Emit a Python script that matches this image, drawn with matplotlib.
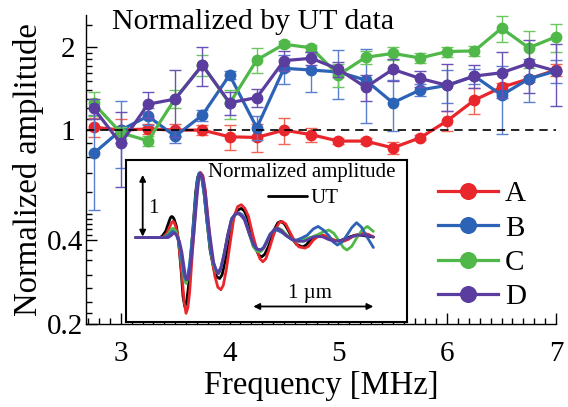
import matplotlib
matplotlib.use("Agg")
import matplotlib.pyplot as plt
from matplotlib.ticker import FixedLocator, FixedFormatter, NullFormatter, MultipleLocator

plt.rcParams['font.family'] = ['Liberation Serif', 'DejaVu Serif']

# frequency points [MHz]
freq = [2.75, 3.0, 3.25, 3.5, 3.75, 4.0, 4.25, 4.5, 4.75, 5.0,
        5.25, 5.5, 5.75, 6.0, 6.25, 6.5, 6.75, 7.0]

# normalized amplitude per sample, with error
a_val = [1.025, 1.00, 1.01, 1.00, 1.00, 0.946, 0.941, 1.00, 0.963, 0.913,
         0.913, 0.863, 0.938, 1.08, 1.283, 1.427, 1.53, 1.647]
a_err = [0.08, 0.10, 0.04, 0.05, 0.04, 0.10, 0.11, 0.11, 0.055, 0.02,
         0.02, 0.04, 0.02, 0.09, 0.14, 0.05, 0.04, 0.08]
b_val = [0.824, 1.00, 1.123, 0.95, 1.133, 1.58, 1.02, 1.67, 1.647, 1.62,
         1.515, 1.255, 1.395, 1.45, 1.566, 1.337, 1.53, 1.633]
b_err = [0.31, 0.27, 0.08, 0.05, 0.05, 0.05, 0.10, 0.20, 0.27, 0.33,
         0.45, 0.26, 0.07, 0.20, 0.10, 0.37, 0.27, 0.15]
c_val = [1.248, 0.978, 0.915, 1.30, 1.716, 1.248, 1.79, 2.04, 1.98, 1.58,
         1.83, 1.89, 1.82, 1.92, 1.93, 2.33, 1.98, 2.17]
c_err = [0.12, 0.05, 0.04, 0.10, 0.15, 0.15, 0.18, 0.05, 0.05, 0.15,
         0.10, 0.10, 0.08, 0.08, 0.08, 0.25, 0.30, 0.25]
d_val = [1.198, 0.895, 1.24, 1.294, 1.716, 1.255, 1.31, 1.78, 1.815, 1.66,
         1.426, 1.656, 1.536, 1.45, 1.566, 1.61, 1.74, 1.633]
d_err = [0.10, 0.27, 0.13, 0.35, 0.27, 0.12, 0.10, 0.15, 0.10, 0.10,
         0.15, 0.15, 0.10, 0.28, 0.15, 0.30, 0.38, 0.41]

labels = ['A', 'B', 'C', 'D']
colors = ['#e9262b', '#2c63b6', '#4fb848', '#5a3d9f']
err_colors = ['#f06454', '#5a7fcf', '#6cc65f', '#6a52b6']

# inset waveforms: position [um] vs amplitude
ut_x = [0.08, 0.28, 0.30, 0.33, 0.355, 0.37, 0.38, 0.39, 0.40, 0.42,
        0.44, 0.46, 0.475, 0.49, 0.505, 0.52, 0.55, 0.58, 0.595, 0.61,
        0.63, 0.65, 0.675, 0.70, 0.73, 0.755, 0.78, 0.80, 0.825, 0.86,
        0.89, 0.925, 0.96, 0.985, 1.01, 1.045, 1.075, 1.105, 1.13, 1.155,
        1.19, 1.215, 1.24, 1.265, 1.29, 1.32, 1.35, 1.39, 1.42, 1.47,
        1.50, 1.53, 1.575, 1.62, 1.66, 1.70, 1.74, 1.78, 1.825, 1.87,
        1.91, 1.95, 2.00, 2.06]
ut_y = [0.0, 0.0, 0.02, 0.10, 0.24, 0.32, 0.34, 0.33, 0.30, 0.18,
        -0.10, -0.55, -0.95, -1.11, -1.03, -0.80, -0.04, 0.73, 0.96, 1.04,
        0.98, 0.72, 0.25, -0.20, -0.50, -0.63, -0.66, -0.60, -0.38, 0.0,
        0.29, 0.44, 0.47, 0.43, 0.32, 0.06, -0.15, -0.28, -0.31, -0.27,
        -0.13, 0.02, 0.15, 0.24, 0.26, 0.22, 0.12, -0.03, -0.11, -0.15,
        -0.12, -0.05, 0.02, 0.04, 0.01, -0.02, -0.045, -0.05, -0.02, 0.015,
        0.04, 0.04, 0.025, 0.01]
wa_x = [0.08, 0.28, 0.31, 0.34, 0.365, 0.38, 0.39, 0.40, 0.41, 0.43,
        0.45, 0.47, 0.485, 0.50, 0.515, 0.53, 0.56, 0.59, 0.605, 0.62,
        0.64, 0.66, 0.685, 0.71, 0.74, 0.765, 0.79, 0.81, 0.835, 0.87,
        0.90, 0.93, 0.96, 0.99, 1.02, 1.055, 1.09, 1.115, 1.14, 1.165,
        1.195, 1.225, 1.25, 1.275, 1.30, 1.33, 1.37, 1.41, 1.44, 1.49,
        1.52, 1.56, 1.60, 1.64, 1.685, 1.73, 1.77, 1.81, 1.85, 1.89,
        1.935, 1.98, 2.02, 2.06]
wa_y = [0.0, 0.0, 0.01, 0.07, 0.18, 0.24, 0.26, 0.25, 0.20, 0.05,
        -0.30, -0.70, -1.05, -1.22, -1.13, -0.88, -0.05, 0.74, 0.97, 1.05,
        1.00, 0.77, 0.27, -0.25, -0.62, -0.80, -0.84, -0.77, -0.52, -0.05,
        0.34, 0.50, 0.53, 0.47, 0.34, 0.05, -0.20, -0.34, -0.39, -0.34,
        -0.17, 0.02, 0.15, 0.24, 0.26, 0.22, 0.07, -0.08, -0.15, -0.17,
        -0.14, -0.04, 0.02, 0.04, 0.01, -0.04, -0.06, -0.06, -0.03, 0.02,
        0.05, 0.07, 0.05, 0.01]
wc_x = [0.08, 0.28, 0.31, 0.34, 0.365, 0.38, 0.39, 0.40, 0.415, 0.435,
        0.455, 0.47, 0.485, 0.50, 0.515, 0.53, 0.555, 0.58, 0.595, 0.61,
        0.63, 0.65, 0.675, 0.70, 0.725, 0.75, 0.77, 0.79, 0.815, 0.85,
        0.88, 0.91, 0.94, 0.965, 0.99, 1.03, 1.06, 1.09, 1.12, 1.145,
        1.17, 1.20, 1.23, 1.25, 1.27, 1.30, 1.34, 1.38, 1.42, 1.47,
        1.51, 1.55, 1.60, 1.65, 1.69, 1.73, 1.77, 1.81, 1.84, 1.88,
        1.92, 1.965, 2.01, 2.06]
wc_y = [0.0, 0.0, 0.0, 0.03, 0.10, 0.14, 0.15, 0.14, 0.10, -0.02,
        -0.25, -0.48, -0.68, -0.74, -0.66, -0.45, 0.05, 0.63, 0.93, 1.03,
        0.97, 0.72, 0.25, -0.15, -0.42, -0.55, -0.58, -0.50, -0.28, 0.05,
        0.29, 0.37, 0.39, 0.36, 0.29, 0.03, -0.15, -0.22, -0.23, -0.18,
        -0.09, 0.04, 0.12, 0.15, 0.15, 0.12, 0.04, -0.03, -0.06, -0.04,
        -0.01, 0.01, 0.05, 0.10, 0.12, 0.07, -0.04, -0.16, -0.20, -0.14,
        -0.01, 0.12, 0.18, 0.10]
wb_x = [0.08, 0.28, 0.31, 0.34, 0.365, 0.38, 0.39, 0.40, 0.415, 0.435,
        0.455, 0.47, 0.485, 0.50, 0.515, 0.53, 0.555, 0.58, 0.595, 0.61,
        0.63, 0.65, 0.675, 0.70, 0.725, 0.75, 0.77, 0.79, 0.815, 0.85,
        0.88, 0.91, 0.94, 0.965, 0.99, 1.03, 1.06, 1.09, 1.12, 1.145,
        1.17, 1.20, 1.23, 1.25, 1.27, 1.30, 1.34, 1.38, 1.42, 1.46,
        1.51, 1.56, 1.60, 1.645, 1.69, 1.725, 1.76, 1.80, 1.84, 1.88,
        1.92, 1.96, 2.01, 2.06]
wb_y = [0.0, 0.0, 0.0, 0.02, 0.06, 0.09, 0.10, 0.09, 0.06, -0.04,
        -0.22, -0.43, -0.62, -0.68, -0.61, -0.42, 0.05, 0.63, 0.93, 1.04,
        0.97, 0.72, 0.25, -0.12, -0.40, -0.52, -0.55, -0.48, -0.28, 0.06,
        0.31, 0.38, 0.40, 0.37, 0.31, 0.05, -0.12, -0.19, -0.20, -0.16,
        -0.06, 0.06, 0.11, 0.12, 0.11, 0.08, 0.02, -0.03, -0.04, -0.01,
        0.04, 0.14, 0.18, 0.12, 0.03, -0.07, -0.12, -0.07, 0.04, 0.16,
        0.24, 0.17, 0.0, -0.16]
wd_x = [0.08, 0.28, 0.32, 0.35, 0.375, 0.39, 0.40, 0.41, 0.425, 0.445,
        0.465, 0.48, 0.495, 0.51, 0.525, 0.54, 0.565, 0.59, 0.605, 0.62,
        0.64, 0.66, 0.685, 0.71, 0.73, 0.755, 0.77, 0.79, 0.815, 0.845,
        0.875, 0.905, 0.93, 0.955, 0.985, 1.025, 1.06, 1.09, 1.12, 1.145,
        1.17, 1.20, 1.23, 1.245, 1.26, 1.29, 1.33, 1.39, 1.44, 1.48,
        1.52, 1.56, 1.60, 1.64, 1.685, 1.73, 1.77, 1.81, 1.85, 1.89,
        1.935, 1.98, 2.02, 2.06]
wd_y = [0.0, 0.0, 0.0, 0.0, 0.03, 0.06, 0.07, 0.06, 0.03, -0.06,
        -0.23, -0.43, -0.62, -0.68, -0.61, -0.42, 0.05, 0.63, 0.93, 1.04,
        0.97, 0.72, 0.25, -0.12, -0.40, -0.55, -0.58, -0.50, -0.30, 0.03,
        0.27, 0.37, 0.39, 0.36, 0.29, 0.07, -0.09, -0.18, -0.20, -0.17,
        -0.09, 0.04, 0.12, 0.15, 0.15, 0.12, 0.04, -0.04, -0.06, -0.06,
        -0.03, 0.01, 0.02, 0.01, -0.03, -0.06, -0.05, -0.04, -0.01, 0.02,
        0.04, 0.04, 0.03, 0.01]

fig = plt.figure(figsize=(5.68, 4.07), dpi=100)
ax = fig.add_axes([86 / 568, 83 / 407, 470 / 568, 309 / 407])

series = [(a_val, a_err), (b_val, b_err), (c_val, c_err), (d_val, d_err)]
handles = []
for i, (vals, errs) in enumerate(series):
    ax.errorbar(freq, vals, yerr=errs, fmt='none', ecolor=err_colors[i],
                elinewidth=1.0, capsize=4, capthick=1.0, zorder=2 + i, clip_on=False)
    ln, = ax.plot(freq, vals, '-o', color=colors[i], lw=2.3, ms=7.5,
                  zorder=2 + i, clip_on=False, label=labels[i])
    handles.append(ln)

ax.axhline(1.0, color='black', lw=1.2, ls=(0, (5, 3.5)), zorder=7)

ax.set_yscale('log')
ax.set_xlim(2.68, 7.0)
ax.set_ylim(0.2, 2.6)

ax.xaxis.set_major_locator(MultipleLocator(1))
ax.xaxis.set_minor_locator(MultipleLocator(0.1))
ax.yaxis.set_major_locator(FixedLocator([0.2, 0.4, 1, 2]))
ax.yaxis.set_major_formatter(FixedFormatter(['0.2', '0.4', '1 ', '2 ']))
ax.yaxis.set_minor_locator(FixedLocator([0.22, 0.24, 0.27, 0.3, 0.34, 0.37,
                                         0.42, 0.44, 0.46, 0.48, 0.5, 0.6, 0.7, 0.8, 0.9,
                                         1.1, 1.2, 1.3, 1.4, 1.5, 1.6, 1.7, 1.8, 1.9, 2.4]))
ax.yaxis.set_minor_formatter(NullFormatter())

ax.spines['top'].set_visible(False)
ax.spines['right'].set_visible(False)
ax.spines['left'].set_linewidth(1.0)
ax.spines['bottom'].set_linewidth(1.0)
ax.tick_params(which='both', direction='in', top=False, right=False, width=1.0)
ax.tick_params(which='major', length=8, labelsize=21)
ax.tick_params(which='minor', length=4)
ax.tick_params(axis='x', which='major', pad=12)
ax.tick_params(axis='y', which='major', pad=2)

ax.set_xlabel('Frequency [MHz]', fontsize=23.5, labelpad=3)
ax.set_ylabel('Normalized amplitude', fontsize=23.5, labelpad=2)

fig.text(253 / 568, 1 - 22 / 407, 'Normalized by UT data', fontsize=21.5,
         ha='center', va='center')

ax.legend(handles, labels, loc='upper left', bbox_to_anchor=(438 / 568, 1 - 181 / 407),
          bbox_transform=fig.transFigure, frameon=False, fontsize=21,
          handlelength=2.05, handletextpad=0.25, labelspacing=0.27,
          borderpad=0, borderaxespad=0, markerscale=1.5)

# inset with waveforms
axin = fig.add_axes([126 / 568, 85 / 407, 281 / 568, 162 / 407])
axin.set_facecolor('white')
axin.set_zorder(10)
axin.set_xlim(0, 2.34)
axin.set_ylim(-1.36, 1.25)
axin.set_xticks([])
axin.set_yticks([])
for s in axin.spines.values():
    s.set_linewidth(1.5)

wkw = dict(lw=2.0, solid_joinstyle='round', solid_capstyle='round')
ut_line, = axin.plot(ut_x, ut_y, color='black', **wkw)
axin.plot(wa_x, wa_y, color=colors[0], **wkw)
axin.plot(wc_x, wc_y, color=colors[2], **wkw)
axin.plot(wb_x, wb_y, color=colors[1], **wkw)
axin.plot(wd_x, wd_y, color=colors[3], **wkw)

axin.text(1.46, 1.05, 'Normalized amplitude', fontsize=15, ha='center', va='center')
axin.legend([ut_line], ['UT'], loc='center left', bbox_to_anchor=(0.505, 0.764),
            frameon=False, fontsize=15, handlelength=1.9, handletextpad=0.15,
            borderpad=0, borderaxespad=0)

axin.annotate('', xy=(0.139, 1.01), xytext=(0.139, 0.016),
              arrowprops=dict(arrowstyle='<|-|>', color='black', lw=1.3,
                              mutation_scale=9, shrinkA=0, shrinkB=0))
axin.text(0.228, 0.47, '1', fontsize=15, ha='center', va='center')
axin.annotate('', xy=(2.06, -1.11), xytext=(1.06, -1.11),
              arrowprops=dict(arrowstyle='<|-|>', color='black', lw=1.3,
                              mutation_scale=9, shrinkA=0, shrinkB=0))
axin.text(1.53, -0.90, '1 µm', fontsize=15, ha='center', va='center')

fig.savefig('out.png', dpi=100)
